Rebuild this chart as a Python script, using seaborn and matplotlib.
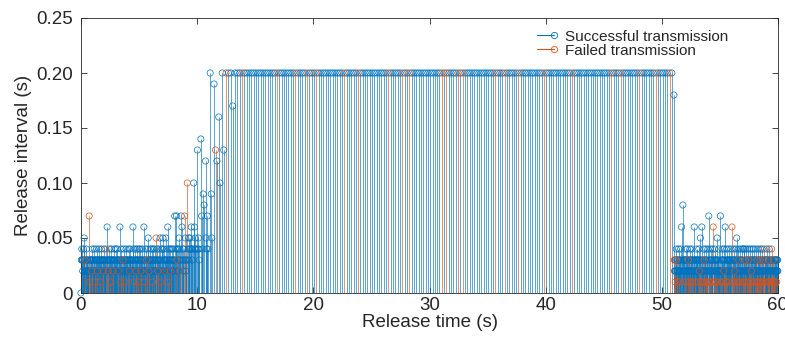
import numpy as np
import pandas as pd
import seaborn as sns
import matplotlib.pyplot as plt
from matplotlib.lines import Line2D
from matplotlib.legend_handler import HandlerLine2DCompound

sns.set_style('ticks')
plt.rcParams['font.family'] = ['Liberation Sans', 'DejaVu Sans']

# release intervals in 1/100 s, one token per release, "x" = failed transmission
startup = (
    "0 "
    "3 4 3 3 2 3 4 5 3 2 3x 2 3 2 4 3 2 3 2 3 2 2 7x 3 2 1x 3 2 3 3 2 2x 3 4 2 "
    "2 3 3 2 4 2 3 1x 2 3 3 2 4 3 2 2x 3 3 2 3 4 2 3 2 1x 3 2 3 4 2 3 2 3 3 2x 3 2 4 "
    "3 2 3 2 4x 3 2 6 3 2 3 2x 3 2 4 3 2 1x 3 3 2 4 3 2 3 2 2x 3 3 2 4 3 2 3 2 4 "
    "2 3 2 4 3 2 3 2x 3 2 3 6 2 3 1x 4 3 2 3 2 3 3x 2 4 3 2 2 3 1x 3 2 4 3 2 3 3 2 "
    "3 2 4 2 3 2x 3 4 3 2 3 2 3 2 3 6 4 2 3 1x 2 3 2 4 3 2x 3 2 3 4 2 3 2 1x 3 4 "
    "2 3 2 4 3 2x 3 2 3 4 2 3 2 6 3 2 1x 3 2 4 2 3 3x 2 3 4 5 2 3 2x 3 2 3 4 3 "
    "3 2 4 3 2 1x 3 4 2 3 2 4 3 2 3 5x 2 3 4 2 3 2x 3 4 2 3 2 5 3 2 1x 3 4 2 4 "
    "5 2 3 4 2 3 2x 3 5 2 3 4 3 6 2 3 1x 4 3 2 3 4 2x 3 2 4 3 2 3 4 2 3 3 "
    "7 3 4 7 2 3x 4 3 4 2 5 3 4 2x 3 7 6 3 4 2 3 4 7x 3 5"
)
ramp = (
    "2 3 10x 3 4 5 3 4 5 4 6 4 3 4 10 6 4 5 4 13 4 5 4 3 14 7 4 9 8 12 "
    "5 4 7 4 20 9 5 19 13x 12 16 10 20 13 20x"
)
plateau = (
    "20 20 17 "
    "20 20 20 20x 20 20 20 20 20 20 "
    "20 20 20 20 20 20 20 20 20x 20 "
    "20 20 20 20 20 20 20x 20 20 20 "
    "20 20x 20 20 20 20x 20 20 20 20 "
    "20 20 20 20 20 20 20 20x 20 20 "
    "20 20 20 20x 20 20 20 20 20 20 "
    "20 20 20 20 20 20 20x 20 20 20 "
    "20 20 20x 20 20 20x 20 20 20 20 "
    "20 20 20 20 20 20 20 20 20 20x "
    "20 20x 20 20 20 20 20x 20 20x 20 "
    "20 20 20 20 20 20 20 20 20 20 "
    "20 20 20x 20 20 20 20x 20 20 20 "
    "20 20 20x 20 20 20 20 20 20 20 "
    "20 20 20 20x 20 20 20 20 20 20 "
    "20 20 20 20 20 20x 20 20 20 20 "
    "20 20 20 20 20 20 20 20 20 20 "
    "20 20 20x 20 20 20 20x 20 20 20 "
    "20 20 20 20 20x 20 20 20 20 20 "
    "20 20x 20 20 20 20 20 20x 20 18"
)
recovery = (
    "3x 2 3 2 1x 3 2 4 3x 2 3 1x 2 3 2 4 3 2 1x 3 2 3 4 2 6 3 8 2 3 1x 3 2 3 2 3 4 "
    "2 3 1x 3 2 4 3 2 3x 2 3 1x 2 3 4 2 3 2 1x 3 2 4 3 2 1x 3 2 3 6 2 3 2 1x 3 2 3 4 3 2 "
    "3 2 1x 3 2 4 3 2x 3 5 2 1x 3 6 2 3 1x 2 3 2 4 3x 2 1x 3 2 3 4 2 1x 3 2 3 2 1x 4 7 "
    "2 3 1x 3 2 4 2 3 1x 2 3 2 4 6x 3 2 1x 3 2 4 3 2 1x 3 2 3 5 2 1x 3 3 2 4 2 2 2 7 "
    "2 1x 3 2 3 4 2 1x 3 2 3 2x 4 3 6 2 1x 3 2 4 3 1x 2 3 2 3 4 2 1x 3 2 3 3 2 4 3 6x "
    "2 3 1x 3 2 4 3 2x 1x 3 2 3 4 2 5 3 1x 2 3 2 4 3x 2 1x 3 2 3 4 2 1x 3 2 3 2 4 3 2 1x 4 "
    "4 2 1x 3 2 3x 4 2 3 1x 2 3 2 4 3 2 1x 3x 2 3 4 2 1x 3 2 3 2x 4 3 2 1x 3 2 4 3 2 3 1x 3 2 "
    "4 2 3 1x 2 3x 2 3 1x 4 2 3 2 1x 3 2 3x 4 2 1x 3 2 3 4 2 1x 3 2 3x 2 4x 3 2 3 2 1x 3 2 3 4 "
    "2 3 1x 3 2 3x 2 4 1x 3 2 3 2 1x 3 2 4x 3 2 1x 3 2 3x 2 1x 3 2 3 2 1x 3 2 3 2 3 2 1x 3 2 3 2"
)

tokens = " ".join([startup, ramp, plateau, recovery]).split()
interval = np.array([int(t.rstrip('x')) for t in tokens]) / 100
failed = np.array([t.endswith('x') for t in tokens])
df = pd.DataFrame({
    'time': np.cumsum(interval),
    'interval': interval,
    'status': np.where(failed, 'Failed transmission', 'Successful transmission'),
})

blue = '#0072BD'
orange = '#D95319'
ink = '#262626'

fig = plt.figure(figsize=(7.85, 3.47), dpi=100)
ax = fig.add_axes([81 / 785, 1 - 293 / 347, 697 / 785, 275 / 347])

for status, col in [('Successful transmission', blue), ('Failed transmission', orange)]:
    sub = df[df['status'] == status]
    ax.vlines(sub['time'], 0, sub['interval'], colors=col, lw=0.45)
    sns.scatterplot(data=sub, x='time', y='interval', ax=ax, marker='o', s=20,
                    color=col, facecolor='none', edgecolor=col, linewidth=0.5,
                    legend=False, zorder=3, clip_on=False)


class StemHandler(HandlerLine2DCompound):
    # MATLAB stem legend: line with the marker at its right end
    def get_xdata(self, legend, xdescent, ydescent, width, height, fontsize):
        xdata = np.array([-xdescent, -xdescent + width])
        return xdata, xdata[-1:]


handles = [Line2D([], [], color=c, lw=0.8, marker='o', mfc='none', ms=4.5, mew=0.6)
           for c in (blue, orange)]
ax.legend(handles, ['Successful transmission', 'Failed transmission'],
          handler_map={Line2D: StemHandler()}, frameon=False, fontsize=11,
          loc='upper right', bbox_to_anchor=(0.928, 0.958), borderaxespad=0,
          borderpad=0, handlelength=1.1, handletextpad=0.7, labelspacing=0.0)

ax.set_xlim(0, 60)
ax.set_ylim(0, 0.25)
ax.set_xticks(range(0, 61, 10))
ax.set_yticks([0, 0.05, 0.10, 0.15, 0.20, 0.25])
ax.set_yticklabels(['0', '0.05', '0.10', '0.15', '0.20', '0.25'])
ax.set_xlabel('Release time (s)', fontsize=13.5, color=ink, labelpad=0)
ax.set_ylabel('Release interval (s)', fontsize=13.5, color=ink, labelpad=3)
ax.tick_params(direction='in', top=True, right=True, length=4, width=0.6,
               colors=ink, labelsize=13.5, pad=6)
ax.tick_params(axis='x', pad=3)
for sp in ax.spines.values():
    sp.set_visible(True)
    sp.set_linewidth(0.6)
    sp.set_color(ink)

fig.savefig('out.png', dpi=100)
